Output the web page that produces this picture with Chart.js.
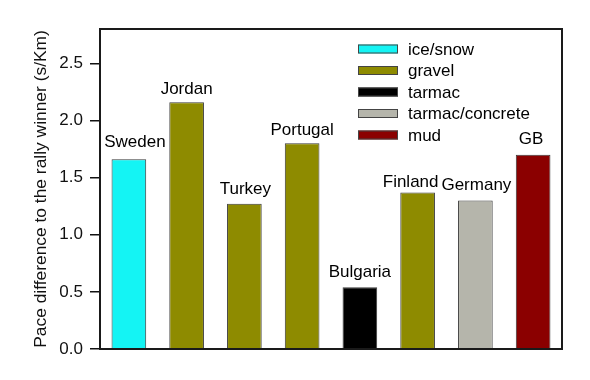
<!DOCTYPE html>
<html>
<head>
<meta charset="utf-8">
<script src="https://cdn.jsdelivr.net/npm/chart.js@4/dist/chart.umd.min.js"></script>
<style>
  html, body { margin: 0; padding: 0; background: #ffffff; }
  #wrap { width: 590px; height: 380px; }
</style>
</head>
<body>
<div id="wrap"><canvas id="c" width="590" height="380"></canvas></div>
<script>
// ---- data ----
const countries = ['Sweden', 'Jordan', 'Turkey', 'Portugal', 'Bulgaria', 'Finland', 'Germany', 'GB'];
const paceDiff = [1.66, 2.16, 1.27, 1.80, 0.54, 1.37, 1.30, 1.70];
const countrySurface = ['ice/snow', 'gravel', 'gravel', 'gravel', 'tarmac', 'gravel', 'tarmac/concrete', 'mud'];
const surfaceNames = ['ice/snow', 'gravel', 'tarmac', 'tarmac/concrete', 'mud'];
const surfaceColors = ['#14f4f4', '#8e8b00', '#000000', '#b5b5ab', '#8b0000'];
const yTicks = [0, 0.5, 1.0, 1.5, 2.0, 2.5];
const yTitle = 'Pace difference to the rally winner (s/Km)';

const FONT = 'Liberation Sans, Arial, Helvetica, sans-serif';

const barColors = countrySurface.map(s => surfaceColors[surfaceNames.indexOf(s)]);

// label placement tweaks (style only)
const labelStyle = {
  dx: [6, 0, 1, 0, 0, -7, 1, -2],
  gap: [12, 8, 10, 8, 10, 5, 10, 11]
};

const framePlugin = {
  id: 'frame',
  afterDatasetsDraw(chart) {
    const ctx = chart.ctx;
    const a = chart.chartArea;
    // value labels above bars
    const meta = chart.getDatasetMeta(0);
    ctx.save();
    ctx.font = '17px ' + FONT;
    ctx.fillStyle = '#000';
    ctx.textAlign = 'center';
    ctx.textBaseline = 'alphabetic';
    meta.data.forEach((el, i) => {
      ctx.fillText(countries[i], el.x + labelStyle.dx[i], el.y - labelStyle.gap[i]);
    });
    ctx.restore();

    // frame
    ctx.save();
    ctx.strokeStyle = '#1a1a1a';
    ctx.lineWidth = 2;
    ctx.strokeRect(a.left, a.top, a.right - a.left, a.bottom - a.top);
    ctx.restore();

    // legend
    ctx.save();
    const sx = a.left + 258, sw = 40, sh = 9;
    const y0 = a.top + 20, dy = 21.5;
    ctx.font = '17px ' + FONT;
    ctx.textBaseline = 'middle';
    ctx.textAlign = 'left';
    surfaceNames.forEach((name, i) => {
      const cy = y0 + i * dy;
      ctx.fillStyle = surfaceColors[i];
      ctx.fillRect(sx, cy - sh / 2, sw, sh);
      ctx.strokeStyle = '#444';
      ctx.lineWidth = 1;
      ctx.strokeRect(sx + 0.5, cy - sh / 2 + 0.5, sw - 1, sh - 1);
      ctx.fillStyle = '#000';
      ctx.fillText(name, sx + 50, cy + 1);
    });
    ctx.restore();
  }
};

new Chart(document.getElementById('c'), {
  type: 'bar',
  data: {
    labels: countries,
    datasets: [{
      data: paceDiff,
      backgroundColor: barColors,
      borderColor: '#3a3a3a',
      borderWidth: 1,
      barPercentage: 0.6,
      categoryPercentage: 1.0
    }]
  },
  options: {
    responsive: false,
    animation: false,
    devicePixelRatio: 1,
    layout: { padding: { left: 0, right: 28, top: 29, bottom: 0 } },
    plugins: {
      legend: { display: false },
      tooltip: { enabled: false }
    },
    scales: {
      x: {
        grid: { display: false },
        border: { display: false },
        ticks: { display: false },
        afterFit(scale) { scale.height = 31; }
      },
      y: {
        min: 0,
        max: 2.8,
        afterBuildTicks(scale) { scale.ticks = yTicks.map(v => ({ value: v })); },
        ticks: {
          stepSize: 0.5,
          includeBounds: false,
          padding: 7,
          color: '#111',
          font: { family: FONT, size: 17 },
          callback: v => Number(v).toFixed(1)
        },
        grid: {
          drawOnChartArea: false,
          drawTicks: true,
          tickLength: 10,
          color: '#111',
          lineWidth: 1.5
        },
        border: { display: false },
        title: {
          display: true,
          text: yTitle,
          color: '#111',
          font: { family: FONT, size: 17.4 },
          padding: { top: 31, bottom: 0 }
        },
        afterFit(scale) { scale.width = 100; }
      }
    }
  },
  plugins: [framePlugin]
});
</script>
</body>
</html>
